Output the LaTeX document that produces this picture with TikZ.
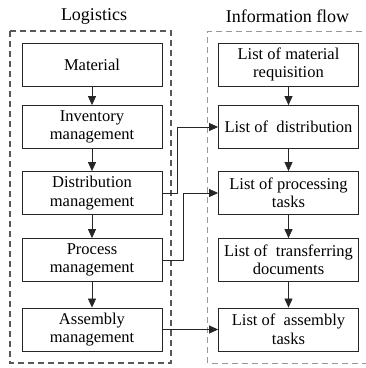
\documentclass[tikz,border=0pt]{standalone}
\usepackage{fontspec}
\setmainfont{Liberation Serif}
\usetikzlibrary{arrows.meta}
\tikzset{
  block/.style={draw=black!85, line width=0.8pt, minimum width=140pt, minimum height=43pt,
    inner sep=0pt, align=center, font=\fontsize{16.5}{18.5}\selectfont},
  title/.style={font=\fontsize{18}{20}\selectfont, inner sep=0pt},
  arr/.style={draw=black!85, line width=0.7pt, -{Triangle[length=9pt,width=8pt]}},
  leftframe/.style={draw=black!65, line width=1.3pt, dash pattern=on 6pt off 4pt},
  rightframe/.style={draw=black!40, line width=1pt, dash pattern=on 6pt off 4pt}
}
\begin{document}
\begin{tikzpicture}[x=1pt, y=-1pt]
  \useasboundingbox (0,0) rectangle (366,368);

  % group frames
  \draw[leftframe] (10,31) rectangle (171,363);
  \draw[rightframe] (372,31) -- (208,31) -- (208,363) -- (372,363);

  % column titles
  \node[title] (tlog) at (94,16) {Logistics};
  \node[title] (tinf) at (287.5,16) {Information flow};

  % logistics column
  \node[block] (mat)  at (92,64.5)  {Material};
  \node[block] (inv)  at (92,127)   {Inventory\\management};
  \node[block] (dist) at (92,193)   {Distribution\\management};
  \node[block] (proc) at (92,260)   {Process\\management};
  \node[block] (asm)  at (92,329.5) {Assembly\\management};

  % information column
  \node[block] (lmat)  at (288.5,64.5)  {List of material\\requisition};
  \node[block] (ldist) at (288.5,127)   {List of\ \ distribution};
  \node[block] (lproc) at (288.5,193)   {List of processing\\tasks};
  \node[block] (ltr)   at (288.5,260)   {List of\ \ transferring\\documents};
  \node[block] (lasm)  at (288.5,329.5) {List of\ \ assembly\\tasks};

  % vertical flow
  \draw[arr] (mat) -- (inv);
  \draw[arr] (inv) -- (dist);
  \draw[arr] (dist) -- (proc);
  \draw[arr] (proc) -- (asm);
  \draw[arr] (lmat) -- (ldist);
  \draw[arr] (ldist) -- (lproc);
  \draw[arr] (lproc) -- (ltr);
  \draw[arr] (ltr) -- (lasm);

  % cross links
  \draw[arr] (dist.east) -- ++(15,0) |- (ldist.west);
  \draw[arr] (proc.east) -- ++(21,0) |- (lproc.west);
  \draw[arr] (asm.east) -- (lasm.west);
\end{tikzpicture}
\end{document}
